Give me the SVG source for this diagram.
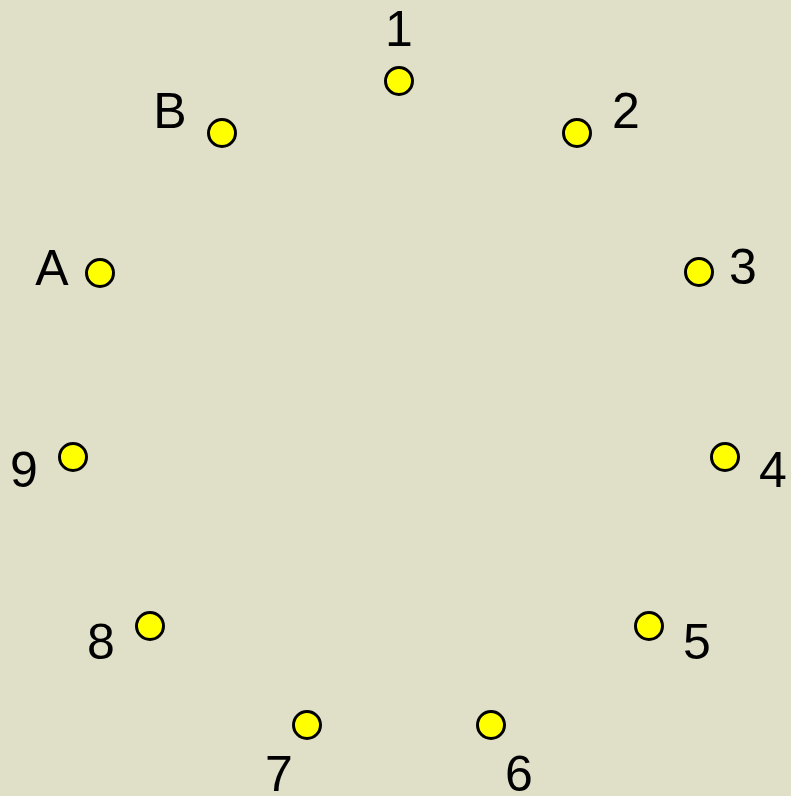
<svg xmlns="http://www.w3.org/2000/svg" width="791" height="796" viewBox="0 0 791 796">
<style>
.dot{fill:#ffff00;stroke:#000;stroke-width:3}
.lbl{font-family:"Liberation Sans",Arial,sans-serif;font-size:50px;fill:#000;text-anchor:middle}
</style>
<rect width="791" height="796" fill="#e0dfc8"/>
<g id="connectors"/>
<g id="n1"><circle class="dot" cx="399" cy="81" r="13.5"/><text class="lbl" x="399" y="46">1</text></g>
<g id="n2"><circle class="dot" cx="577" cy="133" r="13.5"/><text class="lbl" x="626" y="128">2</text></g>
<g id="nB"><circle class="dot" cx="222" cy="133" r="13.5"/><text class="lbl" x="170" y="128">B</text></g>
<g id="n3"><circle class="dot" cx="699" cy="272" r="13.5"/><text class="lbl" x="743" y="284">3</text></g>
<g id="nA"><circle class="dot" cx="100" cy="273" r="13.5"/><text class="lbl" x="52" y="285">A</text></g>
<g id="n4"><circle class="dot" cx="725" cy="457" r="13.5"/><text class="lbl" x="773" y="487">4</text></g>
<g id="n9"><circle class="dot" cx="73" cy="457" r="13.5"/><text class="lbl" x="24" y="487">9</text></g>
<g id="n5"><circle class="dot" cx="649" cy="626" r="13.5"/><text class="lbl" x="697" y="659">5</text></g>
<g id="n8"><circle class="dot" cx="150" cy="626" r="13.5"/><text class="lbl" x="101" y="659">8</text></g>
<g id="n6"><circle class="dot" cx="491" cy="725" r="13.5"/><text class="lbl" x="519" y="791">6</text></g>
<g id="n7"><circle class="dot" cx="307" cy="725" r="13.5"/><text class="lbl" x="279" y="791">7</text></g>
</svg>
